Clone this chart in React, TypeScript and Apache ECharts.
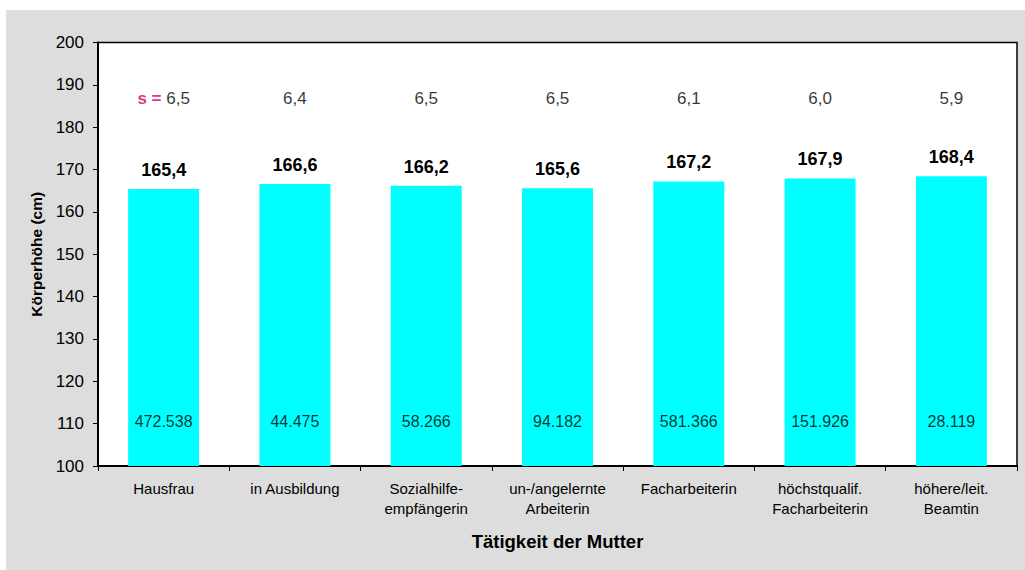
import React, { useEffect, useRef } from "react";
import * as echarts from "echarts";

const categories = [
  "Hausfrau",
  "in Ausbildung",
  "Sozialhilfe-\nempfängerin",
  "un-/angelernte\nArbeiterin",
  "Facharbeiterin",
  "höchstqualif.\nFacharbeiterin",
  "höhere/leit.\nBeamtin",
];
const heights = [165.4, 166.6, 166.2, 165.6, 167.2, 167.9, 168.4];
const sdValues = [6.5, 6.4, 6.5, 6.5, 6.1, 6.0, 5.9];
const counts = [472538, 44475, 58266, 94182, 581366, 151926, 28119];
const yTicks = { min: 100, max: 200, interval: 10 };
const sdRowLevel = 186.8;
const countRowLevel = 110.4;

const FONT = '"Liberation Sans", Arial, sans-serif';
const fmtDec = (v: number) => v.toFixed(1).replace(".", ",");
const fmtInt = (v: number) => String(v).replace(/\B(?=(\d{3})+(?!\d))/g, ".");

export default function App() {
  const ref = useRef<HTMLDivElement>(null);
  useEffect(() => {
    document.body.style.margin = "0";
    const chart = echarts.init(ref.current!, undefined, { renderer: "svg" });
    chart.setOption({
      animation: false,
      backgroundColor: "#ffffff",
      textStyle: { fontFamily: FONT },
      graphic: [
        {
          type: "rect",
          z: -10,
          silent: true,
          shape: { x: 6, y: 10, width: 1025 - 6, height: 570 - 10 },
          style: { fill: "#dddddd" },
        },
      ],
      grid: {
        left: 98,
        top: 42.5,
        right: 8,
        bottom: 104,
        show: true,
        backgroundColor: "#ffffff",
        borderColor: "#000000",
        borderWidth: 1.5,
        z: 0,
      },
      xAxis: {
        type: "category",
        data: categories,
        name: "Tätigkeit der Mutter",
        nameLocation: "middle",
        nameGap: 66,
        nameTextStyle: { fontFamily: FONT, fontSize: 18.5, fontWeight: "bold", color: "#000" },
        axisLine: { lineStyle: { color: "#000", width: 2 } },
        axisTick: { show: true, length: 5, lineStyle: { color: "#000" } },
        axisLabel: { fontFamily: FONT, fontSize: 15, color: "#000", lineHeight: 20, margin: 12, interval: 0 },
        splitLine: { show: false },
      },
      yAxis: {
        type: "value",
        min: yTicks.min,
        max: yTicks.max,
        interval: yTicks.interval,
        name: "Körperhöhe (cm)",
        nameLocation: "middle",
        nameGap: 53,
        nameTextStyle: { fontFamily: FONT, fontSize: 15.5, fontWeight: "bold", color: "#000" },
        axisLine: { show: true, lineStyle: { color: "#000", width: 2 } },
        axisTick: { show: true, length: 5, lineStyle: { color: "#000" } },
        axisLabel: { fontFamily: FONT, fontSize: 17, color: "#000", margin: 14 },
        splitLine: { show: false },
      },
      series: [
        {
          type: "bar",
          data: heights,
          barWidth: 71,
          itemStyle: { color: "#00ffff" },
          label: {
            show: true,
            position: "top",
            distance: 10,
            fontFamily: FONT,
            fontSize: 18,
            fontWeight: "bold",
            color: "#000",
            formatter: (p: any) => fmtDec(p.value),
          },
          z: 2,
        },
        {
          type: "scatter",
          data: sdValues.map(() => sdRowLevel),
          symbolSize: 0,
          silent: true,
          z: 3,
          label: {
            show: true,
            position: "inside",
            fontFamily: FONT,
            fontSize: 17,
            color: "#000",
            formatter: (p: any) =>
              p.dataIndex === 0
                ? "{s|s = }" + fmtDec(sdValues[p.dataIndex])
                : fmtDec(sdValues[p.dataIndex]),
            rich: {
              s: { fontFamily: FONT, fontSize: 17, fontWeight: "bold", color: "#cc0066" },
            },
          },
        },
        {
          type: "scatter",
          data: counts.map(() => countRowLevel),
          symbolSize: 0,
          silent: true,
          z: 3,
          label: {
            show: true,
            position: "inside",
            fontFamily: FONT,
            fontSize: 16,
            color: "#000",
            formatter: (p: any) => fmtInt(counts[p.dataIndex]),
          },
        },
      ],
    });
    return () => chart.dispose();
  }, []);
  return (
    <div
      ref={ref}
      style={{ position: "absolute", left: 0, top: 0, width: 1025, height: 570 }}
    />
  );
}
